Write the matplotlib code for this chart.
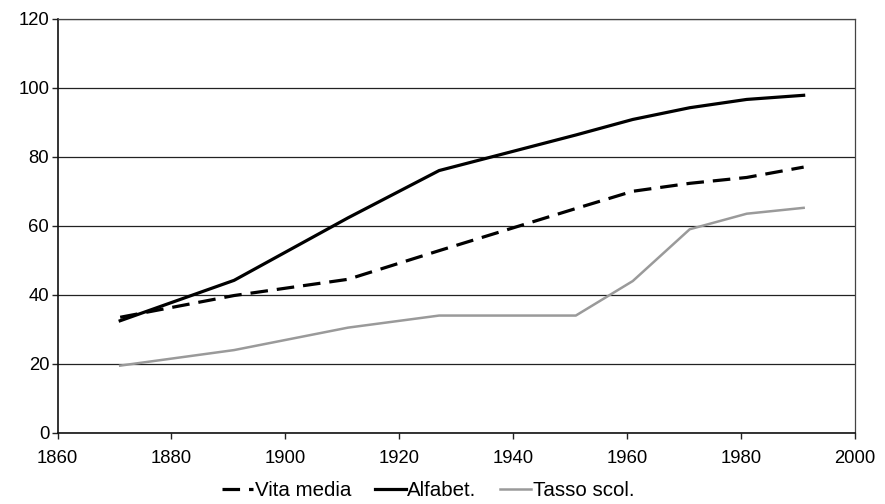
import matplotlib
matplotlib.use("Agg")
import matplotlib.pyplot as plt

plt.rcParams['font.family'] = ['Liberation Sans', 'DejaVu Sans']

years = [1871, 1891, 1911, 1927, 1951, 1961, 1971, 1981, 1991]
vita_media = [33.5, 39.8, 44.5, 52.8, 65.0, 70.0, 72.3, 74.0, 77.0]
alfabet = [32.5, 44.2, 62.3, 76.0, 86.3, 90.8, 94.2, 96.6, 97.8]
tasso_scol = [19.5, 24.0, 30.5, 34.0, 34.0, 44.0, 59.0, 63.5, 65.2]

labels = ["Vita media", "Alfabet.", "Tasso scol."]
x_ticks = [1860, 1880, 1900, 1920, 1940, 1960, 1980, 2000]
y_ticks = [0, 20, 40, 60, 80, 100, 120]

fig = plt.figure(figsize=(8.85, 5.04), dpi=100)
ax = fig.add_axes([0.065, 0.141, 0.901, 0.822])

ax.plot(years, vita_media, color='black', lw=2.3, dashes=(5.5, 2.8), label=labels[0])
ax.plot(years, alfabet, color='black', lw=2.3, label=labels[1])
ax.plot(years, tasso_scol, color='#9a9a9a', lw=1.8, label=labels[2])

ax.set_xlim(1860, 2000)
ax.set_ylim(0, 120)
ax.set_xticks(x_ticks)
ax.set_yticks(y_ticks)
ax.yaxis.grid(True, color='#222222', lw=0.9)
ax.set_axisbelow(True)
for s in ['top', 'right']:
    ax.spines[s].set_color('#444444')
    ax.spines[s].set_linewidth(0.9)
for s in ['left', 'bottom']:
    ax.spines[s].set_color('#111111')
    ax.spines[s].set_linewidth(1.2)
ax.tick_params(axis='both', labelsize=13.3, direction='out', length=4, width=1, color='#222222')
ax.tick_params(axis='x', pad=8)
ax.tick_params(axis='y', pad=2)

leg = fig.legend(loc='center', bbox_to_anchor=(0.484, 0.026), ncol=3, frameon=False,
                 fontsize=14.8, handlelength=1.5, handletextpad=0.08, columnspacing=1.15,
                 borderpad=0, borderaxespad=0)

fig.savefig("out.png", dpi=100)
